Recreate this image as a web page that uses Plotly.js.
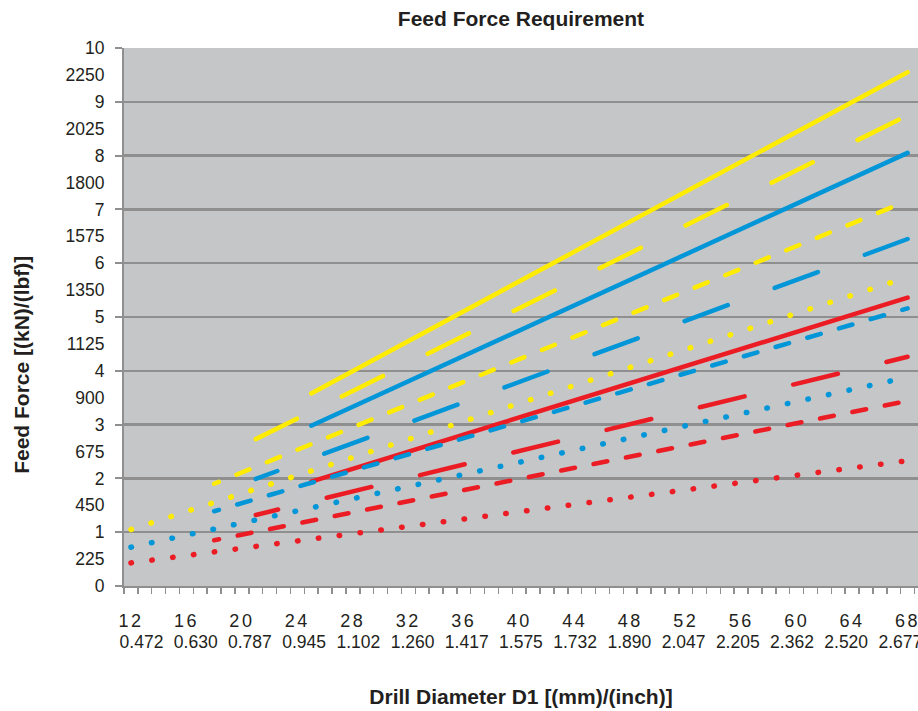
<!DOCTYPE html>
<html>
<head>
<meta charset="utf-8">
<script src="https://cdn.plot.ly/plotly-3.0.1.min.js"></script>
<style>
html, body { margin: 0; padding: 0; background: #ffffff; }
#chart { width: 918px; height: 711px; }
.scatterlayer .js-line { stroke-linecap: round; }
</style>
</head>
<body>
<div id="chart"></div>
<script>
// ---- Data ----
// Drill diameter D1 in mm: start and end of each curve
const diameterSolid    = [25, 68];
const diameterLongDash = [21, 68];
const diameterDash     = [18, 68];
const diameterDotted   = [12, 68];

// Feed force in kN
const yellowSolid    = [3.58, 9.55];
const blueSolid      = [2.98, 8.05];
const redSolid       = [1.94, 5.36];
const yellowLongDash = [2.73, 8.75];
const blueLongDash   = [1.99, 6.45];
const redLongDash    = [1.32, 4.26];
const yellowDash     = [1.90, 7.16];
const blueDash       = [1.39, 5.16];
const redDash        = [0.85, 3.44];
const yellowDotted   = [1.05, 5.74];
const blueDotted     = [0.72, 3.88];
const redDotted      = [0.43, 2.33];

// Tick labels
const mmTicks   = [12, 16, 20, 24, 28, 32, 36, 40, 44, 48, 52, 56, 60, 64, 68];
const inchTicks = ['0.472','0.630','0.787','0.945','1.102','1.260','1.417','1.575',
                   '1.732','1.890','2.047','2.205','2.362','2.520','2.677'];
const kNTicks   = [0, 1, 2, 3, 4, 5, 6, 7, 8, 9, 10];
const lbfTicks  = ['225','450','675','900','1125','1350','1575','1800','2025','2250'];

// ---- Styles ----
const YELLOW = '#ffec00', BLUE = '#0096d8', RED = '#ec1c24';

function dashPattern(first, dash, gap, total) {
  const parts = [];
  let len = 0;
  if (first > 0) { parts.push(first, gap); len += first + gap; }
  while (len < total) { parts.push(dash, gap); len += dash + gap; }
  return parts.map(v => v + 'px').join(',');
}
const DOT = '0.5px,20.5px';
const MED_SHORT = dashPattern(5, 14, 19, 1200);
const LONG_FULL = dashPattern(0, 46, 50, 1200);
const LONG_SHORT = dashPattern(23, 46, 50, 1200);

function tr(x, y, color, dash, width) {
  return { x: x, y: y, type: 'scatter', mode: 'lines', hoverinfo: 'x+y',
           line: { color: color, width: width, dash: dash }, showlegend: false };
}

const traces = [
  tr(diameterDotted, redDotted, RED, DOT, 5.5),
  tr(diameterDash, redDash, RED, MED_SHORT, 4.5),
  tr(diameterLongDash, redLongDash, RED, LONG_SHORT, 4.5),
  tr(diameterSolid, redSolid, RED, 'solid', 4.5),
  tr(diameterDotted, blueDotted, BLUE, DOT, 5.5),
  tr(diameterDash, blueDash, BLUE, MED_SHORT, 4.5),
  tr(diameterLongDash, blueLongDash, BLUE, LONG_SHORT, 4.5),
  tr(diameterSolid, blueSolid, BLUE, 'solid', 4.5),
  tr(diameterDotted, yellowDotted, YELLOW, DOT, 5.5),
  tr(diameterDash, yellowDash, YELLOW, MED_SHORT, 4.5),
  tr(diameterLongDash, yellowLongDash, YELLOW, LONG_FULL, 4.5),
  tr(diameterSolid, yellowSolid, YELLOW, 'solid', 4.5),
  // empty trace so the inch label row (secondary x axis) is rendered
  { x: [], y: [], type: 'scatter', mode: 'lines', xaxis: 'x2', showlegend: false, hoverinfo: 'skip' }
];

// y tick values: kN at integers, lbf half-way between
const yTickVals = [], yTickText = [];
kNTicks.forEach((k, i) => {
  yTickVals.push(k); yTickText.push(String(k));
  if (i < lbfTicks.length) { yTickVals.push(k + 0.5); yTickText.push(lbfTicks[i]); }
});
const mmTickText = mmTicks.map(m => '<span style="letter-spacing:2.5px">' + m + '</span>');

const TXT = '#231f20';
const GRID = '#8f8f8f';
const FONT = 'Liberation Sans, Arial, sans-serif';

const layout = {
  width: 918, height: 711,
  margin: { l: 124, r: 0, t: 48, b: 125, pad: 0 },
  paper_bgcolor: '#ffffff',
  plot_bgcolor: '#c5c6c8',
  font: { family: FONT, color: TXT },
  title: { text: '<b>Feed Force Requirement</b>', font: { size: 21, color: TXT, family: FONT },
           x: 0.5675, xref: 'container', xanchor: 'center', y: 0.974, yref: 'container', yanchor: 'middle' },
  xaxis: {
    range: [11.5, 68.75], fixedrange: true,
    tickmode: 'array', tickvals: mmTicks, ticktext: mmTickText,
    tickfont: { size: 18, color: TXT, family: FONT },
    ticklabeloverflow: 'allow',
    ticks: '', ticklabelstandoff: 17,
    showgrid: false, zeroline: false,
    showline: true, linecolor: GRID, linewidth: 2,
    minor: { tickmode: 'linear', tick0: 11.5, dtick: 1, ticks: 'outside', ticklen: 6, tickwidth: 1.5, tickcolor: GRID, showgrid: false },
    title: { text: '<b>Drill Diameter D1 [(mm)/(inch)]</b>', font: { size: 21, color: TXT, family: FONT }, standoff: 60 },
    automargin: false
  },
  // inch labels: a separate row, spaced slightly differently from the mm row (as in the reference)
  xaxis2: {
    overlaying: 'x', anchor: 'y', side: 'bottom',
    range: [10.708, 69.3], fixedrange: true,
    tickmode: 'array', tickvals: mmTicks, ticktext: inchTicks,
    tickfont: { size: 17.5, color: TXT, family: FONT },
    ticklabeloverflow: 'allow',
    ticks: '', ticklabelstandoff: 43,
    showgrid: false, zeroline: false, showline: false,
    automargin: false
  },
  yaxis: {
    range: [0, 10], fixedrange: true,
    tickmode: 'array', tickvals: yTickVals, ticktext: yTickText,
    tickfont: { size: 17.5, color: TXT, family: FONT },
    ticks: '', ticklabelstandoff: 14,
    showgrid: false, zeroline: false,
    showline: true, linecolor: GRID, linewidth: 2,
    minor: { tickmode: 'linear', tick0: 0, dtick: 1, ticks: 'outside', ticklen: 7, tickwidth: 2, tickcolor: GRID,
             showgrid: true, gridcolor: GRID, gridwidth: 2.5 },
    automargin: false
  },
  annotations: [{
    text: '<b>Feed Force [(kN)/(lbf)]</b>', textangle: -90,
    xref: 'paper', yref: 'paper', x: -0.1285, y: 0.411, xanchor: 'center', yanchor: 'middle',
    showarrow: false, font: { size: 21, color: TXT, family: FONT }
  }]
};

Plotly.newPlot('chart', traces, layout, { displayModeBar: false, staticPlot: true });
</script>
</body>
</html>
